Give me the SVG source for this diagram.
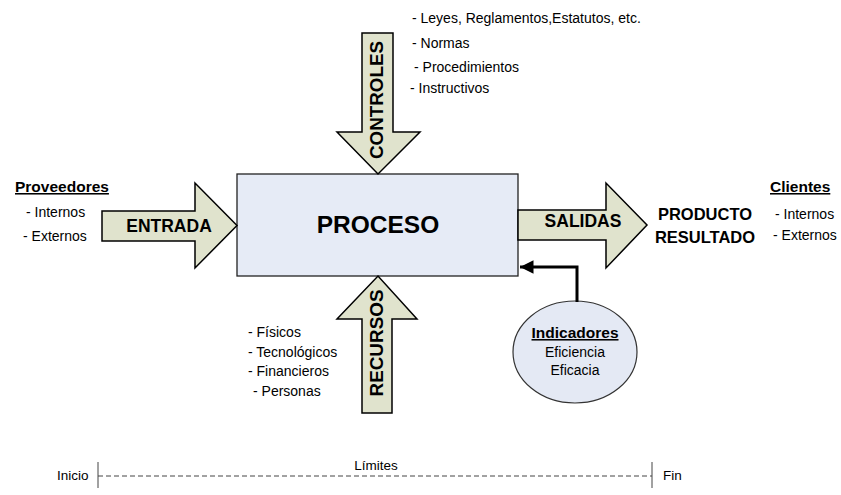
<svg xmlns="http://www.w3.org/2000/svg" width="841" height="495" viewBox="0 0 841 495">
  <style>
    .blk { fill: #e0e3cd; stroke: #000; stroke-width: 1.5; stroke-linejoin: miter; }
    .box { fill: #e6ebf6; stroke: #222; stroke-width: 1.3; }
    .t { font-family: "Liberation Sans", Arial, sans-serif; fill: #000; }
    .item { font-size: 14px; }
    .head { font-size: 15.5px; font-weight: bold; text-decoration: underline; }
    .lbl { font-size: 17.5px; font-weight: bold; }
    .vlbl { font-size: 19px; font-weight: bold; }
    .lim { stroke: #444; stroke-width: 1; }
  </style>
  <defs>
    <marker id="ah" viewBox="0 0 10 10" refX="10" refY="5" markerWidth="6" markerHeight="4.5" orient="auto" markerUnits="strokeWidth">
      <path d="M0,0 L10,5 L0,10 Z" fill="#000"/>
    </marker>
  </defs>

  <rect width="841" height="495" fill="#fff"/>

  <!-- central process block -->
  <g id="proceso">
    <rect class="box" x="237" y="174" width="281" height="102"/>
    <text class="t" x="378" y="233" font-size="24.5" font-weight="bold" text-anchor="middle">PROCESO</text>
  </g>

  <!-- input arrow -->
  <g id="entrada">
    <path class="blk" d="M102,211 L195,211 L195,183 L237,225.5 L195,268 L195,241 L102,241 Z"/>
    <text class="t lbl" x="169" y="232" text-anchor="middle">ENTRADA</text>
  </g>

  <!-- output arrow -->
  <g id="salidas">
    <path class="blk" d="M518,210 L606,210 L606,183 L647,225 L606,268 L606,240 L518,240 Z"/>
    <text class="t lbl" x="583" y="227" text-anchor="middle">SALIDAS</text>
  </g>

  <!-- controls arrow (down) -->
  <g id="controles">
    <path class="blk" d="M362,33 L393,33 L393,132 L420,132 L378,174 L337,132 L362,132 Z"/>
    <text class="t vlbl" transform="translate(383,100) rotate(-90)" text-anchor="middle" textLength="118" lengthAdjust="spacingAndGlyphs">CONTROLES</text>
  </g>

  <!-- resources arrow (up) -->
  <g id="recursos">
    <path class="blk" d="M362,413 L392,413 L392,319 L417,319 L378,276 L337,319 L362,319 Z"/>
    <text class="t vlbl" transform="translate(383,343) rotate(-90)" text-anchor="middle" textLength="107" lengthAdjust="spacingAndGlyphs">RECURSOS</text>
  </g>

  <!-- indicators -->
  <g id="indicadores">
    <ellipse cx="575" cy="352" rx="62" ry="51" fill="#e4e9f4" stroke="#333" stroke-width="1.2"/>
    <text class="t" x="575" y="338" font-size="15.5" font-weight="bold" text-anchor="middle" text-decoration="underline">Indicadores</text>
    <text class="t" x="575" y="357" font-size="14" text-anchor="middle">Eficiencia</text>
    <text class="t" x="575" y="375" font-size="14" text-anchor="middle">Eficacia</text>
  </g>

  <!-- feedback connector -->
  <g id="conectores">
    <polyline points="577,302 577,267 520,267" fill="none" stroke="#000" stroke-width="3" marker-end="url(#ah)"/>
  </g>

  <!-- suppliers -->
  <g id="proveedores">
    <text class="t head" x="15" y="192">Proveedores</text>
    <text class="t item" x="26" y="217">- Internos</text>
    <text class="t item" x="23" y="241">- Externos</text>
  </g>

  <!-- product / result -->
  <g id="producto">
    <text class="t" x="705" y="220" font-size="16.5" font-weight="bold" text-anchor="middle">PRODUCTO</text>
    <text class="t" x="705" y="243" font-size="16.5" font-weight="bold" text-anchor="middle">RESULTADO</text>
  </g>

  <!-- clients -->
  <g id="clientes">
    <text class="t head" x="770" y="192">Clientes</text>
    <text class="t item" x="775" y="219">- Internos</text>
    <text class="t item" x="773" y="240">- Externos</text>
  </g>

  <!-- control items -->
  <g id="lista-controles">
    <text class="t item" x="412" y="23">- Leyes, Reglamentos,Estatutos, etc.</text>
    <text class="t item" x="412" y="48">- Normas</text>
    <text class="t item" x="414" y="72">- Procedimientos</text>
    <text class="t item" x="410" y="93">- Instructivos</text>
  </g>

  <!-- resource items -->
  <g id="lista-recursos">
    <text class="t item" x="248" y="337">- Físicos</text>
    <text class="t item" x="248" y="357">- Tecnológicos</text>
    <text class="t item" x="248" y="376">- Financieros</text>
    <text class="t item" x="253" y="396">- Personas</text>
  </g>

  <!-- process limits -->
  <g id="limites">
    <line class="lim" x1="98" y1="462" x2="98" y2="488"/>
    <line class="lim" x1="652" y1="462" x2="652" y2="488"/>
    <line class="lim" x1="98" y1="476" x2="652" y2="476" stroke-dasharray="5,3"/>
    <text class="t" x="57" y="480" font-size="13.5">Inicio</text>
    <text class="t" x="376" y="470" font-size="13.5" text-anchor="middle">Límites</text>
    <text class="t" x="663" y="480" font-size="13.5">Fin</text>
  </g>
</svg>
